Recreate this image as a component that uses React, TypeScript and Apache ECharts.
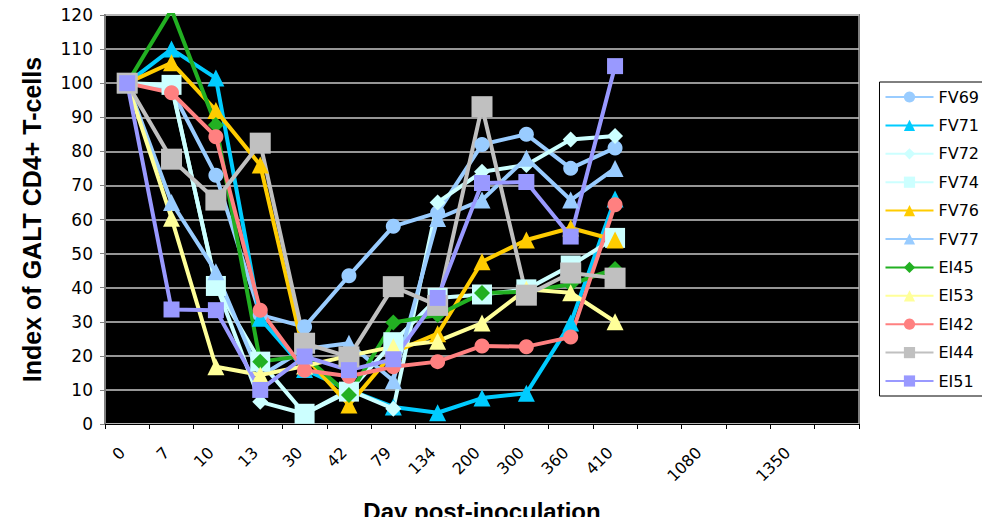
import React, { useEffect, useRef } from "react";
import * as echarts from "echarts";

const categories = ["0", "7", "10", "13", "30", "42", "79", "134", "200", "300", "360", "410", "", "1080", "", "1350", ""];

const FV69 = [100, 98, 73, 32, 28.5, 43.5, 58, 62, 82, 85, 75, 81];
const FV71 = [100, 110, 101.5, 31, 16, 10, 5, 3.3, 7.6, 9, 29.6, 66];
const FV72 = [100, 99, 41, 6.5, 3, 10, 4.5, 65, 74, 76, 83.5, 84.5];
const FV74 = [100, 99.5, 40.5, 18.3, 3, 9.5, 24, 37, 38, 39.5, 46.5, 54.6];
const FV76 = [100, 106, 92, 76, 20, 5.6, 21, 26.5, 47.6, 54, 57.5, 54];
const FV77 = [100, 65, 44.7, 14, 22, 23.7, 12.7, 60.3, 65.7, 78, 65.7, 75];
const EI45 = [100, 121.5, 87.7, 18.3, 20, 8.5, 29.8, 32, 38.4, 38.8, 41, 45.5];
const EI53 = [100, 60.4, 16.8, 14.4, 17, 20, 22.7, 24.3, 29.6, 39.5, 38.5, 30];
const EI42 = [100, 97.2, 84.3, 33.4, 15.8, 14, 16.8, 18.3, 22.9, 22.7, 25.5, 64.3];
const EI44 = [100, 77.7, 65.7, 82.4, 23.7, 19.7, 40.3, 34.8, 93.1, 37.8, 44.3, 42.8];
const EI51 = [100, 33.6, 33.4, 10, 19.8, 15.8, 19, 37, 70.7, 71, 55, 105];

const seriesDefs = [
  { name: "FV69", data: FV69, color: "#99CCFF", symbol: "circle", size: 15 },
  { name: "FV71", data: FV71, color: "#00CCFF", symbol: "triangle", size: 17 },
  { name: "FV72", data: FV72, color: "#CCFFFF", symbol: "diamond", size: 16 },
  { name: "FV74", data: FV74, color: "#CCFFFF", symbol: "rect", size: 20 },
  { name: "FV76", data: FV76, color: "#FFCC00", symbol: "triangle", size: 17 },
  { name: "FV77", data: FV77, color: "#99CCFF", symbol: "triangle", size: 17 },
  { name: "EI45", data: EI45, color: "#22B022", symbol: "diamond", size: 16 },
  { name: "EI53", data: EI53, color: "#FFFF99", symbol: "triangle", size: 17 },
  { name: "EI42", data: EI42, color: "#FF8080", symbol: "circle", size: 15 },
  { name: "EI44", data: EI44, color: "#C0C0C0", symbol: "rect", size: 21 },
  { name: "EI51", data: EI51, color: "#9999FF", symbol: "rect", size: 16 },
];

export default function App() {
  const ref = useRef<HTMLDivElement>(null);
  useEffect(() => {
    if (!ref.current) return;
    const chart = echarts.init(ref.current, undefined, { renderer: "svg" });
    chart.setOption({
      animation: false,
      backgroundColor: "#fff",
      textStyle: { fontFamily: "DejaVu Sans" },
      grid: {
        left: 105,
        top: 15,
        width: 754,
        height: 409,
        outerBoundsMode: "none",
        containLabel: false,
        show: true,
        backgroundColor: "#000",
        borderColor: "#808080",
        borderWidth: 2,
      },
      legend: {
        orient: "vertical",
        right: 5,
        top: 82,
        padding: [7, 6, 7, 5],
        itemGap: 12.4,
        itemWidth: 48,
        itemHeight: 14,
        borderColor: "#000",
        borderWidth: 1,
        textStyle: { fontSize: 16, color: "#000", fontFamily: "DejaVu Sans" },
        data: seriesDefs.map((s) => s.name),
      },
      xAxis: {
        type: "category",
        data: categories,
        boundaryGap: true,
        name: "Day post-inoculation",
        nameLocation: "middle",
        nameGap: 75,
        nameTextStyle: { fontSize: 24, fontWeight: "bold", fontFamily: "Liberation Sans", color: "#000" },
        axisLine: { lineStyle: { color: "#000", width: 1 } },
        axisTick: { show: true, length: 5, lineStyle: { color: "#000" } },
        axisLabel: { rotate: 45, fontSize: 16, color: "#000", margin: 21, padding: [0, 7, 0, 0], interval: 0 },
      },
      yAxis: {
        type: "value",
        min: 0,
        max: 120,
        interval: 10,
        name: "Index of GALT CD4+ T-cells",
        nameLocation: "middle",
        nameGap: 61,
        nameRotate: 90,
        nameTextStyle: { fontSize: 25, fontWeight: "bold", fontFamily: "Liberation Sans", color: "#000" },
        axisLine: { show: true, lineStyle: { color: "#808080", width: 2 } },
        axisTick: { show: true, length: 5, lineStyle: { color: "#808080" } },
        axisLabel: { fontSize: 17, color: "#000", margin: 12 },
        splitLine: { show: true, lineStyle: { color: "#C8C8C8", width: 1.5 } },
      },
      series: seriesDefs.map((s) => ({
        name: s.name,
        type: "line",
        data: s.data,
        symbol: s.symbol,
        symbolSize: s.size,
        showAllSymbol: true,
        lineStyle: { color: s.color, width: 4 },
        itemStyle: { color: s.color },
        emphasis: { disabled: true },
      })),
    });
    return () => chart.dispose();
  }, []);
  return <div ref={ref} style={{ width: 990, height: 525, margin: -8 }} />;
}
